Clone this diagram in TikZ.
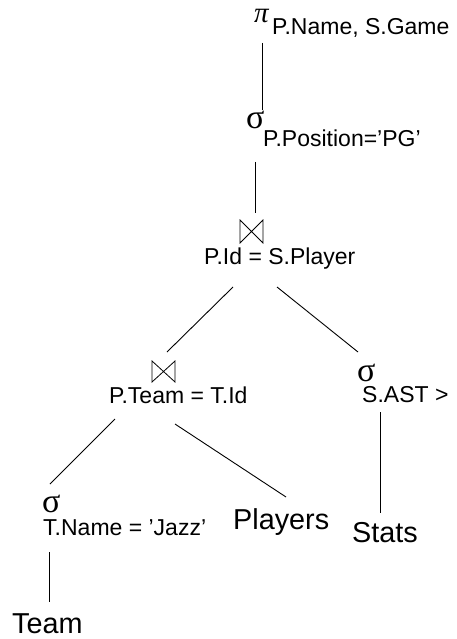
\documentclass[tikz,border=0pt]{standalone}
\usepackage{fontspec}
\setmainfont{Liberation Sans}
\newfontfamily\grkfont{Liberation Serif}
\begin{document}
\begin{tikzpicture}[x=1pt,y=-1pt,
  lbl/.style={inner sep=0pt, anchor=base west, font=\fontsize{23}{26}\selectfont},
  rel/.style={inner sep=0pt, anchor=base west, font=\fontsize{28.8}{32}\selectfont},
  grk/.style={inner sep=0pt, anchor=base west, font=\fontsize{34}{38}\grkfont},
  conn/.style={line width=0.9pt, draw=black},
  bowtie/.style={line width=0.8pt, draw=black}]
\useasboundingbox (0,0) rectangle (457,639);
% projection
\node[inner sep=0pt, anchor=base west, font=\fontsize{29}{32}\grkfont\itshape] (pi) at (254,23) {π};
\node[lbl] (pisub) at (272,35) {P.Name, S.Game};
% selection position
\node[grk] (sig1) at (246,129) {σ};
\node[lbl] (sig1sub) at (263,147) {P.Position=’PG’};
% join 1
\coordinate (bt1) at (240,220);
\draw[bowtie] (bt1) -- ++(23,23) -- ++(0,-23) -- ++(-23,23) -- cycle;
\node[lbl] (j1) at (204,264) {P.Id = S.Player};
% join 2
\coordinate (bt2) at (152,361);
\draw[bowtie] (bt2) -- ++(23,21) -- ++(0,-21) -- ++(-23,21) -- cycle;
\node[lbl] (j2) at (109,403) {P.Team = T.Id};
% selection AST
\node[grk] (sig2) at (357,381) {σ};
\node[lbl] (sig2sub) at (362,402) {S.AST >};
% selection team name
\node[grk] (sig3) at (42,512) {σ};
\node[lbl] (sig3sub) at (43,535) {T.Name = ’Jazz’};
% relations
\node[rel] (players) at (233,529) {Players};
\node[rel] (stats) at (352,542) {Stats};
\node[rel] (team) at (12,633) {Team};
% connector end points
\coordinate (c1a) at (262,43);  \coordinate (c1b) at (262,110);
\coordinate (c2a) at (255,162); \coordinate (c2b) at (255,213);
\coordinate (c3a) at (233,287); \coordinate (c3b) at (167,352);
\coordinate (c4a) at (277,287); \coordinate (c4b) at (358,352);
\coordinate (c5a) at (115,419); \coordinate (c5b) at (50,484);
\coordinate (c6a) at (175,424); \coordinate (c6b) at (286,497);
\coordinate (c7a) at (380,412); \coordinate (c7b) at (380,513);
\coordinate (c8a) at (49,552);  \coordinate (c8b) at (49,602);
\draw[conn] (c1a) -- (c1b);
\draw[conn] (c2a) -- (c2b);
\draw[conn] (c3a) -- (c3b);
\draw[conn] (c4a) -- (c4b);
\draw[conn] (c5a) -- (c5b);
\draw[conn] (c6a) -- (c6b);
\draw[conn] (c7a) -- (c7b);
\draw[conn] (c8a) -- (c8b);
\end{tikzpicture}
\end{document}
